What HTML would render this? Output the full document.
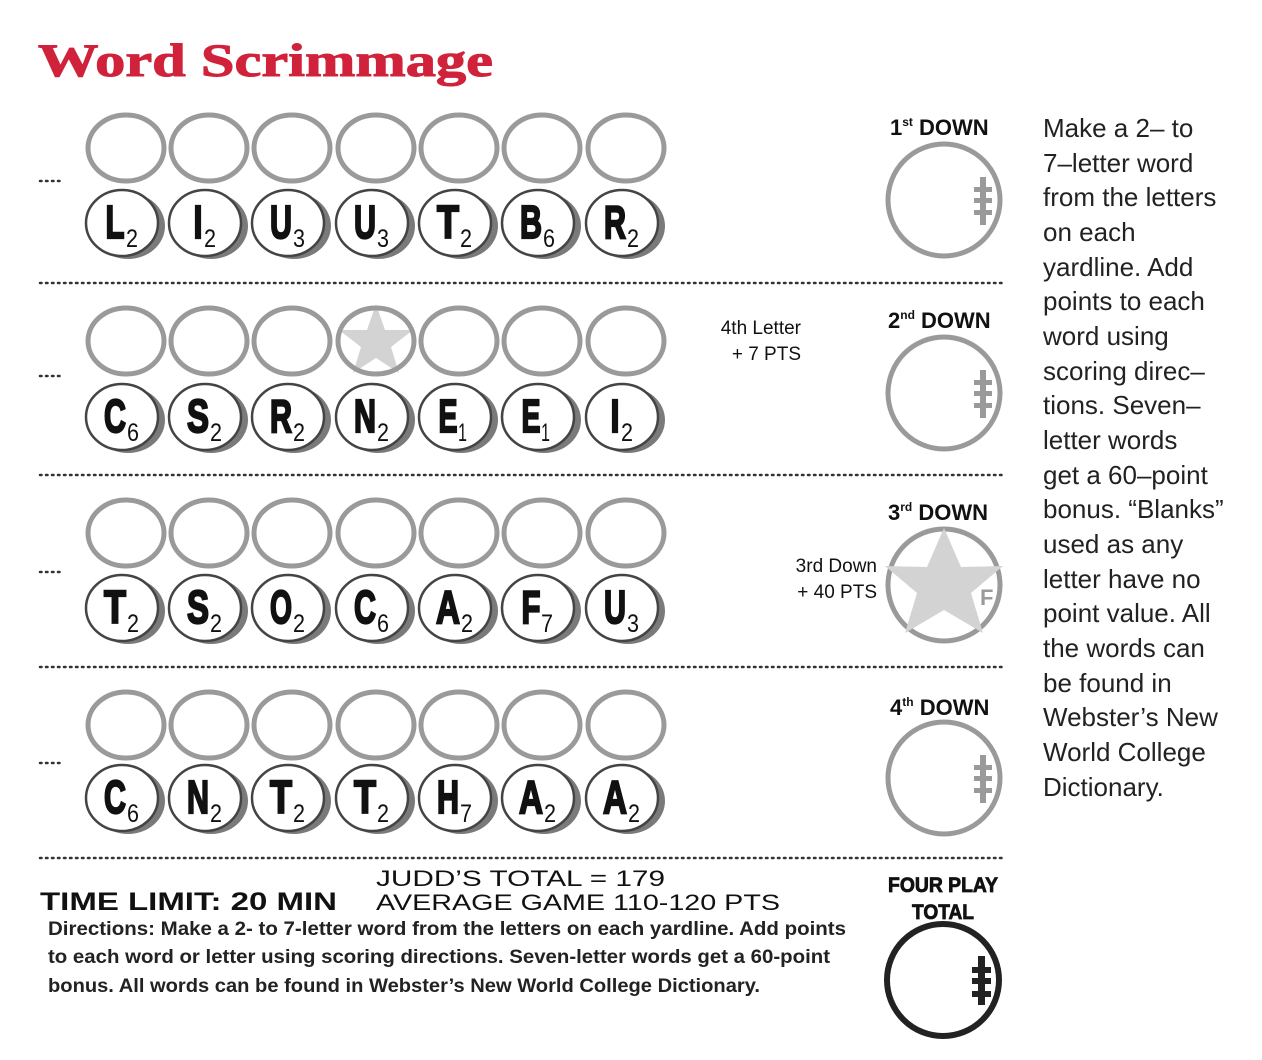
<!DOCTYPE html>
<html><head><meta charset="utf-8"><style>
html,body{margin:0;padding:0;background:#fff;}
svg{display:block;}
.t{font-family:"Liberation Sans",sans-serif;}
.L text{font-family:"Liberation Sans",sans-serif;font-weight:bold;font-size:46px;fill:#111;stroke:#111;stroke-width:2.2px;text-anchor:middle;}
.N text{font-family:"Liberation Sans",sans-serif;font-size:25px;fill:#111;}
.rt{font-family:"Liberation Sans","DejaVu Sans",sans-serif;font-size:26px;fill:#222;}
</style></head><body>
<svg width="1262" height="1060" viewBox="0 0 1262 1060" xmlns="http://www.w3.org/2000/svg">
<defs>
<g id="e"><ellipse cx="0" cy="0" rx="38" ry="33" fill="none" stroke="#9a9a9a" stroke-width="5"/></g>
<g id="tile"><ellipse cx="6" cy="3" rx="37" ry="33" fill="#7a7a7a"/><ellipse cx="0" cy="0" rx="36" ry="33" fill="#fff" stroke="#444" stroke-width="2.5"/></g>
<g id="lace" fill="#9a9a9a"><rect x="-3" y="-24" width="6" height="48"/><rect x="-9" y="-14" width="18" height="5"/><rect x="-9" y="-3" width="18" height="5"/><rect x="-9" y="9" width="18" height="5"/></g>
<polygon id="star" points="0,-38 9,-12 37,-12 15,5 23,31 0,16 -23,31 -15,5 -37,-12 -9,-12" fill="#d3d3d3"/>
</defs>
<text x="38" y="76" font-family="Liberation Serif,serif" font-weight="bold" font-size="47" fill="#d0223a" stroke="#d0223a" stroke-width="1" textLength="455" lengthAdjust="spacingAndGlyphs">Word Scrimmage</text>

<g stroke="#333" stroke-width="2.5" stroke-dasharray="1.5 4.5" stroke-linecap="round">
<line x1="40" y1="283" x2="1005" y2="283"/><line x1="40" y1="475" x2="1005" y2="475"/>
<line x1="40" y1="667" x2="1005" y2="667"/><line x1="40" y1="858" x2="1005" y2="858"/>
<line x1="40" y1="181" x2="64" y2="181"/><line x1="40" y1="376" x2="64" y2="376"/>
<line x1="40" y1="572" x2="64" y2="572"/><line x1="40" y1="763" x2="64" y2="763"/>
</g>

<g id="erow1"><use href="#e" x="126" y="148"/><use href="#e" x="209" y="148"/><use href="#e" x="292" y="148"/><use href="#e" x="376" y="148"/><use href="#e" x="459" y="148"/><use href="#e" x="542" y="148"/><use href="#e" x="626" y="148"/></g>
<use href="#star" x="376" y="342"/>
<use href="#erow1" y="193"/><use href="#erow1" y="385"/><use href="#erow1" y="577"/>

<g id="trow"><use href="#tile" x="122" y="223"/><use href="#tile" x="205" y="223"/><use href="#tile" x="288" y="223"/><use href="#tile" x="372" y="223"/><use href="#tile" x="455" y="223"/><use href="#tile" x="538" y="223"/><use href="#tile" x="622" y="223"/></g>
<use href="#trow" y="194"/><use href="#trow" y="385"/><use href="#trow" y="575"/>

<g class="L">
<text x="115" y="238" textLength="19" lengthAdjust="spacingAndGlyphs">L</text><text x="198" y="238" textLength="9" lengthAdjust="spacingAndGlyphs">I</text><text x="281" y="238" textLength="22" lengthAdjust="spacingAndGlyphs">U</text><text x="365" y="238" textLength="22" lengthAdjust="spacingAndGlyphs">U</text><text x="448" y="238" textLength="22" lengthAdjust="spacingAndGlyphs">T</text><text x="531" y="238" textLength="22" lengthAdjust="spacingAndGlyphs">B</text><text x="615" y="238" textLength="22" lengthAdjust="spacingAndGlyphs">R</text>
<text x="115" y="432" textLength="22" lengthAdjust="spacingAndGlyphs">C</text><text x="198" y="432" textLength="22" lengthAdjust="spacingAndGlyphs">S</text><text x="281" y="432" textLength="22" lengthAdjust="spacingAndGlyphs">R</text><text x="365" y="432" textLength="22" lengthAdjust="spacingAndGlyphs">N</text><text x="448" y="432" textLength="19" lengthAdjust="spacingAndGlyphs">E</text><text x="531" y="432" textLength="19" lengthAdjust="spacingAndGlyphs">E</text><text x="615" y="432" textLength="9" lengthAdjust="spacingAndGlyphs">I</text>
<text x="115" y="623" textLength="22" lengthAdjust="spacingAndGlyphs">T</text><text x="198" y="623" textLength="22" lengthAdjust="spacingAndGlyphs">S</text><text x="281" y="623" textLength="22" lengthAdjust="spacingAndGlyphs">O</text><text x="365" y="623" textLength="22" lengthAdjust="spacingAndGlyphs">C</text><text x="448" y="623" textLength="24" lengthAdjust="spacingAndGlyphs">A</text><text x="531" y="623" textLength="19" lengthAdjust="spacingAndGlyphs">F</text><text x="615" y="623" textLength="22" lengthAdjust="spacingAndGlyphs">U</text>
<text x="115" y="813" textLength="22" lengthAdjust="spacingAndGlyphs">C</text><text x="198" y="813" textLength="22" lengthAdjust="spacingAndGlyphs">N</text><text x="281" y="813" textLength="22" lengthAdjust="spacingAndGlyphs">T</text><text x="365" y="813" textLength="22" lengthAdjust="spacingAndGlyphs">T</text><text x="448" y="813" textLength="22" lengthAdjust="spacingAndGlyphs">H</text><text x="531" y="813" textLength="24" lengthAdjust="spacingAndGlyphs">A</text><text x="615" y="813" textLength="24" lengthAdjust="spacingAndGlyphs">A</text>
</g>
<g class="N">
<text x="126" y="247" textLength="12" lengthAdjust="spacingAndGlyphs">2</text><text x="204" y="247" textLength="12" lengthAdjust="spacingAndGlyphs">2</text><text x="293" y="247" textLength="12" lengthAdjust="spacingAndGlyphs">3</text><text x="377" y="247" textLength="12" lengthAdjust="spacingAndGlyphs">3</text><text x="460" y="247" textLength="12" lengthAdjust="spacingAndGlyphs">2</text><text x="543" y="247" textLength="12" lengthAdjust="spacingAndGlyphs">6</text><text x="627" y="247" textLength="12" lengthAdjust="spacingAndGlyphs">2</text>
<text x="127" y="441" textLength="12" lengthAdjust="spacingAndGlyphs">6</text><text x="210" y="441" textLength="12" lengthAdjust="spacingAndGlyphs">2</text><text x="293" y="441" textLength="12" lengthAdjust="spacingAndGlyphs">2</text><text x="377" y="441" textLength="12" lengthAdjust="spacingAndGlyphs">2</text><text x="458" y="441" textLength="9" lengthAdjust="spacingAndGlyphs">1</text><text x="541" y="441" textLength="9" lengthAdjust="spacingAndGlyphs">1</text><text x="621" y="441" textLength="12" lengthAdjust="spacingAndGlyphs">2</text>
<text x="127" y="632" textLength="12" lengthAdjust="spacingAndGlyphs">2</text><text x="210" y="632" textLength="12" lengthAdjust="spacingAndGlyphs">2</text><text x="293" y="632" textLength="12" lengthAdjust="spacingAndGlyphs">2</text><text x="377" y="632" textLength="12" lengthAdjust="spacingAndGlyphs">6</text><text x="461" y="632" textLength="12" lengthAdjust="spacingAndGlyphs">2</text><text x="541" y="632" textLength="12" lengthAdjust="spacingAndGlyphs">7</text><text x="627" y="632" textLength="12" lengthAdjust="spacingAndGlyphs">3</text>
<text x="127" y="822" textLength="12" lengthAdjust="spacingAndGlyphs">6</text><text x="210" y="822" textLength="12" lengthAdjust="spacingAndGlyphs">2</text><text x="293" y="822" textLength="12" lengthAdjust="spacingAndGlyphs">2</text><text x="377" y="822" textLength="12" lengthAdjust="spacingAndGlyphs">2</text><text x="460" y="822" textLength="12" lengthAdjust="spacingAndGlyphs">7</text><text x="544" y="822" textLength="12" lengthAdjust="spacingAndGlyphs">2</text><text x="628" y="822" textLength="12" lengthAdjust="spacingAndGlyphs">2</text>
</g>

<g class="t" font-weight="bold" fill="#111">
<text x="890" y="135" font-size="22">1<tspan font-size="12" dy="-9">st</tspan><tspan dy="9"> DOWN</tspan></text>
<text x="888" y="328" font-size="22">2<tspan font-size="12" dy="-9">nd</tspan><tspan dy="9"> DOWN</tspan></text>
<text x="888" y="520" font-size="22">3<tspan font-size="12" dy="-9">rd</tspan><tspan dy="9"> DOWN</tspan></text>
<text x="890" y="715" font-size="22">4<tspan font-size="12" dy="-9">th</tspan><tspan dy="9"> DOWN</tspan></text>
<text x="888" y="892" font-size="21" stroke="#111" stroke-width="0.8" textLength="110" lengthAdjust="spacingAndGlyphs">FOUR PLAY</text>
<text x="912" y="919" font-size="21" stroke="#111" stroke-width="0.8" textLength="62" lengthAdjust="spacingAndGlyphs">TOTAL</text>
</g>
<g class="t" fill="#111" font-size="19" text-anchor="end">
<text x="801" y="334">4th Letter</text><text x="801" y="360">+ 7 PTS</text>
<text x="877" y="572">3rd Down</text><text x="877" y="598">+ 40 PTS</text>
</g>
<g fill="none" stroke="#9a9a9a" stroke-width="5">
<circle cx="944" cy="200" r="56"/><circle cx="944" cy="393" r="56"/><circle cx="944" cy="585" r="56"/><circle cx="944" cy="778" r="56"/>
</g>
<use href="#lace" x="983" y="201"/><use href="#lace" x="983" y="394"/><use href="#lace" x="983" y="779"/>
<polygon points="944,528 961,567 1003,566 971,593 983,633 944,610 905,633 917,593 885,566 927,567" fill="#d3d3d3"/>
<text x="980" y="605" class="t" font-weight="bold" font-size="22" fill="#9a9a9a">F</text>
<circle cx="943" cy="980" r="56" fill="none" stroke="#222" stroke-width="6"/>
<g fill="#222"><rect x="978" y="956" width="7" height="49"/><rect x="972" y="967" width="19" height="6"/><rect x="972" y="978" width="19" height="6"/><rect x="972" y="991" width="19" height="6"/></g>

<text x="40" y="910" font-family="Liberation Sans,sans-serif" font-weight="bold" font-size="25" fill="#111" textLength="297" lengthAdjust="spacingAndGlyphs">TIME LIMIT: 20 MIN</text>
<text x="376" y="886" font-family="Liberation Sans,sans-serif" font-size="22" fill="#111" textLength="289" lengthAdjust="spacingAndGlyphs">JUDD’S TOTAL = 179</text>
<text x="376" y="910" font-family="Liberation Sans,sans-serif" font-size="22" fill="#111" textLength="404" lengthAdjust="spacingAndGlyphs">AVERAGE GAME 110-120 PTS</text>
<g class="t" font-size="19" font-weight="bold" fill="#222">
<text x="48" y="935" textLength="798" lengthAdjust="spacingAndGlyphs">Directions: Make a 2- to 7-letter word from the letters on each yardline. Add points</text>
<text x="48" y="963" textLength="782" lengthAdjust="spacingAndGlyphs">to each word or letter using scoring directions. Seven-letter words get a 60-point</text>
<text x="48" y="992" textLength="712" lengthAdjust="spacingAndGlyphs">bonus. All words can be found in Webster’s New World College Dictionary.</text>
</g>

<g class="rt">
<text x="1043" y="137">Make a 2– to</text>
<text x="1043" y="172">7–letter word</text>
<text x="1043" y="206">from the letters</text>
<text x="1043" y="241">on each</text>
<text x="1043" y="276">yardline. Add</text>
<text x="1043" y="310">points to each</text>
<text x="1043" y="345">word using</text>
<text x="1043" y="380">scoring direc–</text>
<text x="1043" y="414">tions. Seven–</text>
<text x="1043" y="449">letter words</text>
<text x="1043" y="484">get a 60–point</text>
<text x="1043" y="518">bonus. “Blanks”</text>
<text x="1043" y="553">used as any</text>
<text x="1043" y="588">letter have no</text>
<text x="1043" y="622">point value. All</text>
<text x="1043" y="657">the words can</text>
<text x="1043" y="692">be found in</text>
<text x="1043" y="726">Webster’s New</text>
<text x="1043" y="761">World College</text>
<text x="1043" y="796">Dictionary.</text>
</g>
</svg>
</body></html>
